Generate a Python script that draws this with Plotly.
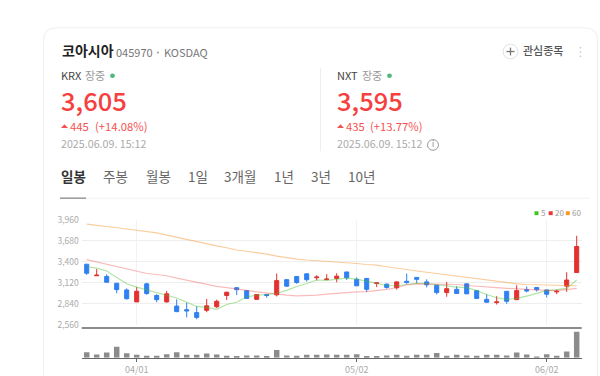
import plotly.graph_objects as go

W, H = 600, 376
FONT = "Noto Sans CJK KR"

dates = ["03/25","03/26","03/27","03/28","03/31","04/01","04/02","04/03","04/04","04/07",
         "04/08","04/09","04/10","04/11","04/14","04/15","04/16","04/17","04/18","04/21",
         "04/22","04/23","04/24","04/25","04/28","04/29","04/30","05/02","05/07","05/08",
         "05/09","05/12","05/13","05/14","05/15","05/16","05/19","05/20","05/21","05/22",
         "05/23","05/26","05/27","05/28","05/29","05/30","06/02","06/04","06/05","06/09"]
opens = [3368,3213,3204,3113,3023,2863,3105,2949,2863,2807,2759,2720,2750,2798,2949,3053,3014,2897,2962,2958,
         3161,3204,3239,3187,3161,3178,3264,3165,3178,3109,3100,3053,3139,3191,3131,3087,2988,3031,3105,3014,
         2897,2854,3005,2893,3027,3057,3023,2997,3074,3256]
closes = [3247,3221,3126,3027,2906,3005,2975,2893,2971,2733,2742,2655,2811,2871,2992,3027,2910,2962,2949,3148,
          3074,3122,3161,3195,3169,3208,3187,3079,3031,3118,3057,3131,3122,3165,3092,2988,3040,2975,2971,2910,
          2858,2863,2871,3014,3010,3027,2966,3005,3156,3605]
highs = [3368,3303,3234,3113,3044,3061,3118,2966,3010,2897,2854,2802,2902,2893,3001,3061,3018,2966,2971,3243,
         3165,3208,3243,3221,3234,3247,3264,3191,3182,3118,3113,3139,3243,3195,3165,3087,3131,3074,3105,3014,
         2966,2940,3005,3087,3070,3061,3027,3027,3260,3748]
lows = [3226,3213,3122,2979,2893,2863,2958,2858,2854,2725,2655,2629,2725,2781,2889,2954,2910,2893,2919,2936,
        3066,3105,3135,3152,3161,3126,3156,3074,2997,3061,3040,3027,3105,3113,3057,2962,2932,2971,2966,2906,
        2854,2828,2837,2893,2992,3001,2923,2966,2997,3256]
ma5 = [3334,3316,3277,3195,3105,3061,3027,2988,2958,2915,2858,2802,2789,2763,2828,2858,2932,2953,2962,2979,
       3018,3070,3109,3156,3152,3165,3182,3169,3139,3105,3083,3079,3092,3113,3109,3092,3083,3061,3053,3014,
       2962,2919,2897,2910,2940,2979,3014,3027,3044,3156]
ma20 = [3429,3398,3364,3329,3295,3269,3243,3230,3213,3182,3152,3126,3096,3070,3053,3040,3018,2997,2979,2962,
        2953,2945,2945,2953,2966,2979,2988,2997,3001,3014,3031,3053,3092,3105,3105,3105,3100,3096,3083,3070,
        3061,3053,3044,3035,3027,3023,3018,3014,3027,3044]
ma60 = [3904,3891,3874,3856,3839,3822,3804,3787,3757,3727,3696,3666,3640,3614,3588,3558,3541,3524,3502,3476,
        3455,3437,3424,3416,3407,3398,3385,3377,3364,3355,3334,3312,3295,3277,3260,3243,3221,3200,3182,3165,
        3148,3131,3118,3105,3096,3092,3083,3079,3074,3079]
volumes = [17,10,16,34,14,9,6,6,11,17,9,9,13,10,6,5,7,7,5,24,
           7,6,9,9,10,9,9,11,5,5,7,9,6,9,9,15,6,9,7,6,
           9,9,7,16,10,3,11,6,19,81]
price_ticks = [2560,2840,3120,3400,3680,3960]
price_tick_labels = ["2,560","2,840","3,120","3,400","3,680","3,960"]
date_ticks = ["04/01","05/02","06/02"]
tabs = ["일봉","주봉","월봉","1일","3개월","1년","3년","10년"]

RED, BLUE = "#e2312f", "#2f80f2"
fig = go.Figure()
fig.add_trace(go.Candlestick(
    x=dates, open=opens, high=highs, low=lows, close=closes, xaxis="x", yaxis="y",
    increasing=dict(line=dict(color=RED, width=1), fillcolor=RED),
    decreasing=dict(line=dict(color=BLUE, width=1), fillcolor=BLUE),
    whiskerwidth=0, showlegend=False, hoverinfo="skip"))
for vals, col in ((ma5, "rgba(70,190,40,0.42)"), (ma20, "rgba(240,60,60,0.35)"), (ma60, "rgba(245,145,40,0.45)")):
    fig.add_trace(go.Scatter(x=dates, y=vals, mode="lines", line=dict(color=col, width=1.2),
                             xaxis="x", yaxis="y", showlegend=False, hoverinfo="skip"))
fig.add_trace(go.Bar(x=dates, y=volumes, marker=dict(color="#8c8c8c", line=dict(width=0)),
                     xaxis="x2", yaxis="y2", showlegend=False, hoverinfo="skip"))

px = lambda x: x / W
py = lambda y: 1 - y / H

shapes, ann = [], []
def text(x, y, s, size=11, color="#444", weight=400, anchor="left", fam=FONT):
    ann.append(dict(x=px(x), y=py(y), xref="paper", yref="paper", text=s, showarrow=False,
                    xanchor=anchor, yanchor="middle", xshift=0, borderpad=0, borderwidth=0,
                    font=dict(family=fam, size=size, color=color, weight=weight)))
def P(path, **kw):
    shapes.append(dict(type="path", xref="paper", yref="paper", path=path, layer="below", **kw))
def line(x0, y0, x1, y1, color, width=1):
    shapes.append(dict(type="line", xref="paper", yref="paper", x0=px(x0), y0=py(y0), x1=px(x1), y1=py(y1),
                       line=dict(color=color, width=width)))
def rect(x0, y0, x1, y1, color):
    shapes.append(dict(type="rect", xref="paper", yref="paper", x0=px(x0), y0=py(y0), x1=px(x1), y1=py(y1),
                       fillcolor=color, line=dict(width=0)))
def circle(cx, cy, r, fill=None, stroke=None, sw=1):
    shapes.append(dict(type="circle", xref="paper", yref="paper", x0=px(cx-r), y0=py(cy-r), x1=px(cx+r), y1=py(cy+r),
                       fillcolor=fill or "rgba(0,0,0,0)", line=dict(color=stroke or "rgba(0,0,0,0)", width=sw if stroke else 0)))
def tri(cx, cy, color):
    pts = [(cx-3.5, cy+2), (cx+3.5, cy+2), (cx, cy-2)]
    P("M" + " L".join(f"{px(a):.5f},{py(b):.5f}" for a, b in pts) + " Z", fillcolor=color, line=dict(width=0))

# card outline
L, T, R_, r = 43.5, 21.5, 597.5, 13
P(f"M{px(L)},{py(H+5)} L{px(L)},{py(T+r)} Q{px(L)},{py(T)} {px(L+r)},{py(T)} L{px(R_-r)},{py(T)} "
  f"Q{px(R_)},{py(T)} {px(R_)},{py(T+r)} L{px(R_)},{py(H+5)}", line=dict(color="#eeeeee", width=1))

# header
text(61.5, 44.8, "코아시아", 14, "#222", 700)
text(116, 46.3, "045970", 11, "#777")
circle(158, 47, 1, "#999")
text(164, 46.3, "KOSDAQ", 11, "#777")
circle(510.5, 46, 7.5, "#fff", "#e0e0e0", 1)
line(506.5, 46, 514.5, 46, "#777", 1.3); line(510.5, 42, 510.5, 50, "#777", 1.3)
text(523, 44.5, "관심종목", 11, "#555", 500)
for yy in (42, 46.5, 51):
    circle(580.5, yy, 0.9, "#ccc")

for x0, price, d, pct, dotx, txtx, pctx in ((61, "3,605", "445", "(+14.08%)", 112.5, 70, 94.5),
                                           (337, "3,595", "435", "(+13.77%)", 389.5, 346, 370)):
    name = "KRX" if x0 == 61 else "NXT"
    text(x0, 70.7, name, 11, "#444")
    text(x0 + (23.5 if x0 == 61 else 25), 70.7, "장중", 11, "#999")
    circle(dotx, 71, 2.4, "#4fb97c")
    text(x0, 95.3, price, 25.5, "#f5403f", 500)
    tri(x0 + 3.5, 123, "#f5504f")
    text(txtx, 122.5, d, 11.3, "#f5504f")
    text(pctx, 122.5, pct, 11.3, "#f5504f")
    text(x0, 141.3, "2025.06.09. 15:12", 10.7, "#aaa")
line(320.5, 63, 320.5, 149, "#eeeeee")
circle(433, 142.5, 5.5, None, "#999", 1)
text(433, 141.5, "i", 8, "#888", 400, "center")

# tabs
for s, x in zip(tabs, (60.5, 102.5, 146, 188, 224, 274, 310.5, 347.5)):
    text(x, 175, s, 13.5, "#333" if s == "일봉" else "#666", 700 if s == "일봉" else 400)
line(60, 197.5, 590, 197.5, "#f0f0f0")
line(60, 197.5, 86, 197.5, "#999", 1.5)

# chart legend
for x, c, s in ((534.5, "#3fc51f", "5"), (548.7, "#ee3333", "20"), (565.8, "#f59a23", "60")):
    rect(x, 211, x + 4, 215, c)
    text(x + 6.5, 212, s, 8, "#999")

# heavy rule under the price panel
line(81.7, 331.7, 581.7, 331.7, "#666", 1.5)

fig.update_layout(
    width=W, height=H, margin=dict(l=0, r=0, t=0, b=0),
    paper_bgcolor="#fff", plot_bgcolor="#fff", boxgap=0.42, bargap=0.45,
    font=dict(family=FONT), shapes=shapes, annotations=ann, showlegend=False,
    xaxis=dict(type="category", categoryorder="array", categoryarray=dates, domain=[81.7/W, 581.7/W],
               anchor="y", range=[-0.5, 49.5], rangeslider=dict(visible=False), tickmode="array",
               tickvals=date_ticks, showticklabels=False, showgrid=True, gridcolor="#f2f2f2", gridwidth=1,
               ticks="", showline=False, zeroline=False),
    yaxis=dict(domain=[1-328/H, 1-220/H], range=[2560, 3960], anchor="x", tickmode="array",
               tickvals=price_ticks, ticktext=price_tick_labels, showgrid=True, gridcolor="#eeeeee", gridwidth=1,
               zeroline=False, showline=False, ticks="", ticklabelstandoff=2,
               tickfont=dict(size=8.5, color="#aaa", family=FONT)),
    xaxis2=dict(type="category", categoryorder="array", categoryarray=dates, domain=[81.7/W, 581.7/W],
                anchor="y2", range=[-0.5, 49.5], tickmode="array", tickvals=date_ticks,
                showgrid=False, showline=True, linecolor="#666", linewidth=1, ticks="outside", ticklen=3,
                tickcolor="#666", tickfont=dict(size=9, color="#aaa", family=FONT), zeroline=False),
    yaxis2=dict(domain=[1-362.3/H, 1-335.3/H], range=[0, 81], anchor="x2", showticklabels=False,
                showgrid=False, zeroline=False, showline=False, ticks=""),
)
fig.write_html("out.html", config=dict(displayModeBar=False),
               post_script="document.body.style.margin='0';document.documentElement.style.overflow='hidden';")
